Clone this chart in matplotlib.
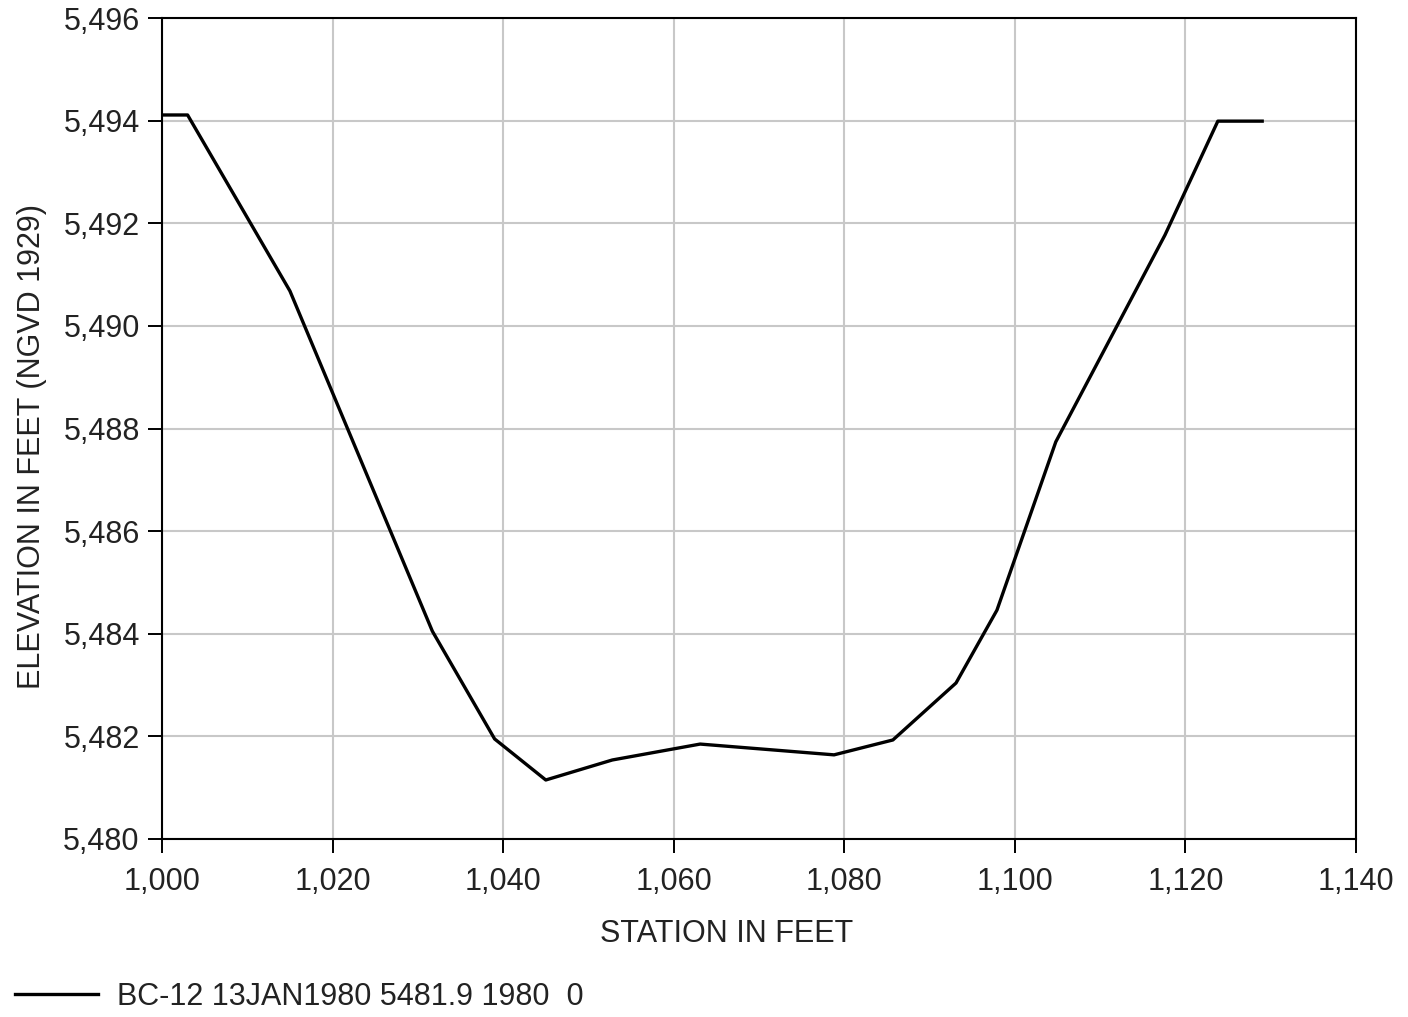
import matplotlib
matplotlib.use("Agg")
import matplotlib.pyplot as plt
from matplotlib.ticker import FuncFormatter, MultipleLocator

plt.rcParams['font.family'] = ['Liberation Sans', 'DejaVu Sans']

# cross section
station = [1000.0, 1003.0, 1015.0, 1031.7, 1039.0, 1045.0, 1052.8, 1063.1,
           1078.8, 1085.7, 1093.1, 1097.9, 1104.8, 1117.6, 1123.8, 1129.0]
elevation = [5494.11, 5494.11, 5490.68, 5484.05, 5481.95, 5481.15, 5481.54, 5481.85,
             5481.64, 5481.93, 5483.04, 5484.46, 5487.74, 5491.77, 5493.99, 5493.99]
series_name = "BC-12 13JAN1980 5481.9 1980  0"

txt = '#222222'
fs = 22

fig = plt.figure(figsize=(14.08, 10.17), dpi=100)
ax = fig.add_axes([162/1408, 178/1017, 1194/1408, 821/1017])

ax.plot(station, elevation, color='black', lw=2.4, label=series_name,
        solid_joinstyle='round')

ax.set_xlim(1000, 1140)
ax.set_ylim(5480, 5496)
ax.xaxis.set_major_locator(MultipleLocator(20))
ax.yaxis.set_major_locator(MultipleLocator(2))
comma = FuncFormatter(lambda v, p: f"{v:,.0f}")
ax.xaxis.set_major_formatter(comma)
ax.yaxis.set_major_formatter(comma)

ax.grid(True, color='#c8c8c8', lw=1.5)
ax.set_axisbelow(True)
for s in ax.spines.values():
    s.set_color('black')
    s.set_linewidth(1.5)
ax.tick_params(direction='out', length=10, width=1.4, color='black',
               labelsize=fs, labelcolor=txt)
ax.tick_params(axis='x', pad=10)
ax.tick_params(axis='y', pad=6)

ax.set_xlabel("STATION IN FEET", fontsize=fs, color=txt, va='center', ha='center')
ax.set_ylabel("ELEVATION IN FEET (NGVD 1929)", fontsize=fs, color=txt,
              va='center', ha='center')
ax.xaxis.set_label_coords(0.473, -0.1157)
ax.yaxis.set_label_coords(-0.1089, 0.4775)

fig.legend(loc='center left', bbox_to_anchor=(0.0107, 0.0197), frameon=False,
           fontsize=fs, labelcolor=txt, handlelength=2.7, handletextpad=0.65,
           borderaxespad=0, borderpad=0)

fig.savefig("out.png", dpi=100)
